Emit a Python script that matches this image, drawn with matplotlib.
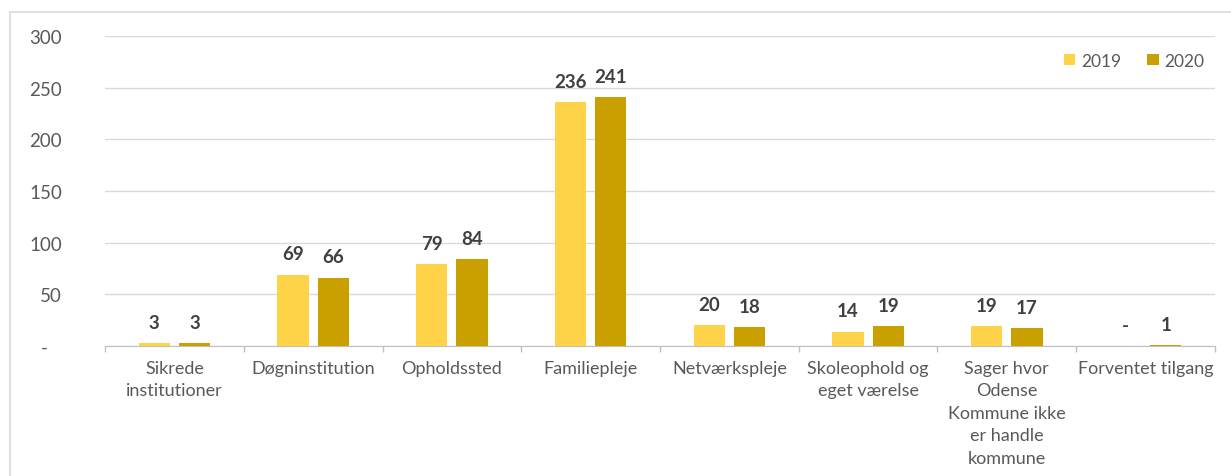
import matplotlib.pyplot as plt
import matplotlib.patches as patches
import numpy as np

plt.rcParams['font.family'] = ['Lato', 'DejaVu Sans']

categories = ["Sikrede\ninstitutioner", "Døgninstitution", "Opholdssted", "Familiepleje",
              "Netværkspleje", "Skoleophold og\neget værelse",
              "Sager hvor\nOdense\nKommune ikke\ner handle\nkommune", "Forventet tilgang"]
v2019 = [3, 69, 79, 236, 20, 14, 19, 0]
v2020 = [3, 66, 84, 241, 18, 19, 17, 1]
yticks = [0, 50, 100, 150, 200, 250, 300]
yticklabels = ["-   ", "50", "100", "150", "200", "250", "300"]

c2019 = "#FFD347"
c2020 = "#C9A000"
txt = "#595959"

fig = plt.figure(figsize=(12.31, 4.77), dpi=100)
ax = fig.add_axes([0.0853, 0.2725, 0.9017, 0.65])

# outer frame of the chart area (left and top edges visible)
fig.add_artist(patches.Rectangle((10 / 1231, -0.1), 1.2, 1 - 13 / 477 + 0.1,
                                 transform=fig.transFigure, fill=False,
                                 edgecolor="#D9D9D9", linewidth=1.2))

x = np.arange(len(categories))
w = 0.225
off = 0.145
b1 = ax.bar(x - off, v2019, w, color=c2019, label="2019", zorder=3)
b2 = ax.bar(x + off, v2020, w, color=c2020, label="2020", zorder=3)

for bars, vals in ((b1, v2019), (b2, v2020)):
    for rect, v in zip(bars, vals):
        ax.annotate("-" if v == 0 else str(v),
                    (rect.get_x() + rect.get_width() / 2, v),
                    xytext=(0, 15), textcoords="offset points",
                    ha="center", va="center", fontsize=13.5,
                    fontweight="bold", color="#404040")

ax.set_xlim(-0.5, len(categories) - 0.5)
ax.set_ylim(0, 300)
ax.set_yticks(yticks)
ax.set_yticklabels(yticklabels)
ax.yaxis.grid(True, color="#D9D9D9", linewidth=1, zorder=0)
ax.set_axisbelow(True)

ax.set_xticks(x)
ax.set_xticklabels(categories, linespacing=1.5)
ax.tick_params(axis="x", length=0, pad=10, labelsize=13, labelcolor=txt)
ax.tick_params(axis="y", length=0, pad=31, labelsize=13.5, labelcolor=txt)
for lbl in ax.get_xticklabels():
    lbl.set_verticalalignment("top")

# category separators on the baseline
ax.set_xticks(np.arange(len(categories) + 1) - 0.5, minor=True)
ax.tick_params(axis="x", which="minor", length=4, color="#BFBFBF", width=1)

for s in ("top", "right", "left"):
    ax.spines[s].set_visible(False)
ax.spines["bottom"].set_color("#BFBFBF")

leg = ax.legend(loc="center right", bbox_to_anchor=(1.0, 0.92), ncol=2, frameon=False,
                fontsize=12.5, handlelength=0.65, handleheight=0.65,
                handletextpad=0.35, columnspacing=1.5, borderaxespad=0.2)
for t in leg.get_texts():
    t.set_color(txt)

fig.savefig("out.png", dpi=100)
